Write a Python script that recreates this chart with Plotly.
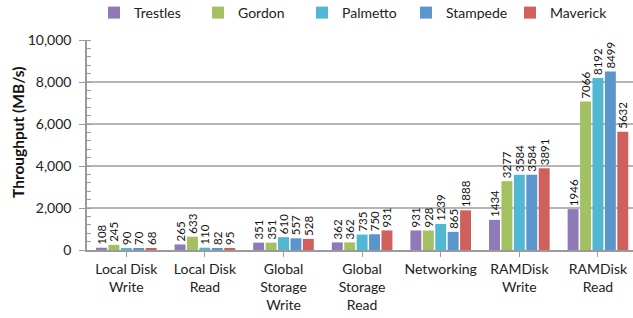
import plotly.graph_objects as go

categories = ["Local Disk<br>Write", "Local Disk<br>Read", "Global<br>Storage<br>Write",
              "Global<br>Storage<br>Read", "Networking", "RAMDisk<br>Write", "RAMDisk<br>Read"]
series_names = ["Trestles", "Gordon", "Palmetto", "Stampede", "Maverick"]
trestles = [108, 265, 351, 362, 931, 1434, 1946]
gordon = [245, 633, 351, 362, 928, 3277, 7066]
palmetto = [90, 110, 610, 735, 1239, 3584, 8192]
stampede = [70, 82, 557, 750, 865, 3584, 8499]
maverick = [68, 95, 528, 931, 1888, 3891, 5632]
y_ticks = [0, 2000, 4000, 6000, 8000, 10000]
y_ticktext = ["0", "2,000", "4,000", "6,000", "8,000", "10,000"]
colors = ["#8F79B7", "#A3C163", "#52B7D3", "#5B95CC", "#D0605B"]

FONT = "Lato"
W, H = 633, 318
L, R, T, B = 87, 0, 40, 68
PW, PH = W - L - R, H - T - B

fig = go.Figure()
for name, vals, col in zip(series_names, [trestles, gordon, palmetto, stampede, maverick], colors):
    fig.add_trace(go.Bar(
        name=name, x=list(range(len(categories))), y=vals,
        marker=dict(color=col, line=dict(width=0)),
        text=[str(v) for v in vals], textposition="outside", textangle=-90,
        constraintext="none", cliponaxis=False,
        textfont=dict(family=FONT, size=11.5, color="#111111"),
    ))

fig.add_annotation(text="<b>Throughput (MB/s)</b>", textangle=-90,
                   xref="paper", yref="paper", x=(18 - L) / PW, y=(T + PH - 132) / PH,
                   xanchor="center", yanchor="middle", showarrow=False,
                   font=dict(family=FONT, size=15.5, color="#111111"))

fig.update_layout(
    width=W, height=H,
    margin=dict(l=L, r=R, t=T, b=B, autoexpand=False),
    paper_bgcolor="white", plot_bgcolor="white",
    barmode="group", bargap=0.21, bargroupgap=0.12,
    font=dict(family=FONT, size=13, color="#222222"),
    showlegend=True,
    legend=dict(orientation="h", x=(94 - L) / PW, xanchor="left", y=1 + (T - 13) / PH, yanchor="middle",
                font=dict(family=FONT, size=14, color="#222222"),
                entrywidth=59, entrywidthmode="pixels",
                itemwidth=30, tracegroupgap=0, bgcolor="rgba(0,0,0,0)"),
    xaxis=dict(range=[-0.5, 6.446], tickmode="array", tickvals=list(range(len(categories))),
               ticktext=categories, showline=True, linecolor="#9a9a9a", linewidth=1.5,
               ticks="outside", tickson="boundaries", ticklen=5, tickcolor="#9a9a9a",
               showgrid=False, automargin=False,
               tickfont=dict(family=FONT, size=14, color="#222222")),
    yaxis=dict(range=[0, 10000], tickmode="array", tickvals=y_ticks, ticktext=y_ticktext,
               showline=True, linecolor="#9a9a9a", linewidth=1.5,
               ticks="outside", ticklen=6, tickcolor="#9a9a9a", ticklabelstandoff=5,
               showgrid=True, gridcolor="#b5b5b5", gridwidth=1.5, zeroline=False,
               minor=dict(dtick=400, ticks="inside", ticklen=4, tickcolor="#9a9a9a", showgrid=False),
               automargin=False,
               tickfont=dict(family=FONT, size=14, color="#222222")),
)

fig.write_html("out.html", config={"displayModeBar": False},
               post_script="document.body.style.margin='0';")
